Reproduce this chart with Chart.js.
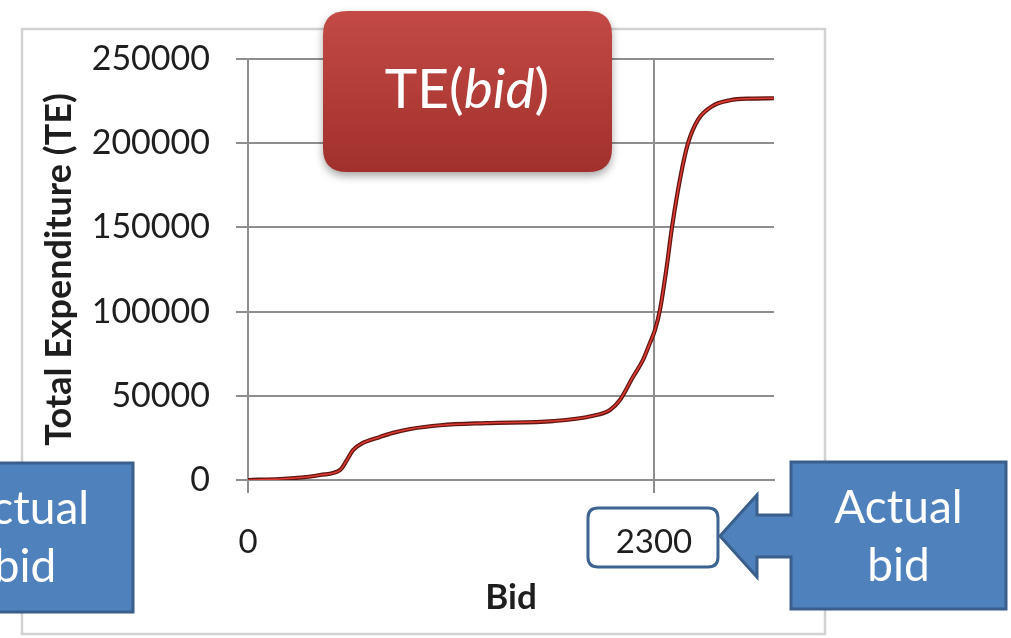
<!DOCTYPE html>
<html>
<head>
<meta charset="utf-8">
<script src="https://cdn.jsdelivr.net/npm/chart.js@4"></script>
<style>
  html, body { margin: 0; padding: 0; background: #fff; }
  #wrap { width: 1011px; height: 638px; position: relative; }
</style>
</head>
<body>
<div id="wrap"><canvas id="teChart"></canvas></div>
<script>
// bid values (x) and total expenditure (y)
const bids = [0, 180, 330, 408, 521, 561, 595, 651, 748, 821, 920, 1090, 1350, 1730, 1949,
  2051, 2107, 2181, 2238, 2277, 2306, 2334, 2370, 2402, 2450, 2493, 2550, 2630, 2730, 2850, 2980];
const expenditure = [0, 600, 1800, 3000, 5900, 11900, 17800, 22000, 25600, 28000, 30300,
  32500, 33800, 35000, 38000, 41600, 47500, 61200, 71300, 81300, 89100, 101000, 125000,
  150000, 180000, 200000, 214000, 222000, 225500, 226500, 226700];
const xTickValues = [0, 2300];
const yMax = 250000;
const yStep = 50000;
const xMax = 2980;
const actualBid = 2300;

const points = bids.map((b, i) => ({ x: b, y: expenditure[i] }));

Chart.defaults.font.family = 'Lato';
Chart.defaults.color = '#1e1e1e';

function roundRect(ctx, x, y, w, h, r) {
  ctx.beginPath();
  ctx.moveTo(x + r, y);
  ctx.lineTo(x + w - r, y);
  ctx.quadraticCurveTo(x + w, y, x + w, y + r);
  ctx.lineTo(x + w, y + h - r);
  ctx.quadraticCurveTo(x + w, y + h, x + w - r, y + h);
  ctx.lineTo(x + r, y + h);
  ctx.quadraticCurveTo(x, y + h, x, y + h - r);
  ctx.lineTo(x, y + r);
  ctx.quadraticCurveTo(x, y, x + r, y);
  ctx.closePath();
}

function callout(ctx, x, y, w, h, withArrow) {
  ctx.beginPath();
  ctx.moveTo(x, y);
  ctx.lineTo(x + w, y);
  ctx.lineTo(x + w, y + h);
  ctx.lineTo(x, y + h);
  if (withArrow) {
    ctx.lineTo(x, y + 95);
    ctx.lineTo(x - 34, y + 95);
    ctx.lineTo(x - 34, y + 115);
    ctx.lineTo(x - 71, y + 74);
    ctx.lineTo(x - 34, y + 33);
    ctx.lineTo(x - 34, y + 53);
    ctx.lineTo(x, y + 53);
  }
  ctx.closePath();
  ctx.fillStyle = '#4f81bd';
  ctx.fill();
  ctx.lineWidth = 3;
  ctx.strokeStyle = '#3a5f8c';
  ctx.stroke();

  ctx.fillStyle = '#fff';
  ctx.font = '46px Lato';
  ctx.textAlign = 'center';
  ctx.textBaseline = 'middle';
  ctx.fillText('Actual', x + w / 2, y + 46);
  ctx.fillText('bid', x + w / 2, y + 104);
}

const decorations = {
  id: 'decorations',
  beforeDraw(chart) {
    const ctx = chart.ctx;
    const xs = chart.scales.x;
    ctx.save();
    // outer frame
    ctx.strokeStyle = '#d2d2d2';
    ctx.lineWidth = 2.5;
    ctx.strokeRect(22, 29, 803, 605);
    // box behind the 2300 tick label
    const cx = xs.getPixelForValue(actualBid);
    roundRect(ctx, cx - 66, 508, 130, 59, 10);
    ctx.fillStyle = '#fff';
    ctx.fill();
    ctx.lineWidth = 3;
    ctx.strokeStyle = '#3d6491';
    ctx.stroke();
    ctx.restore();
  },
  afterDraw(chart) {
    const ctx = chart.ctx;
    ctx.save();
    // red title box
    ctx.shadowColor = 'rgba(0,0,0,0.35)';
    ctx.shadowBlur = 8;
    ctx.shadowOffsetY = 4;
    const grad = ctx.createLinearGradient(0, 11, 0, 172);
    grad.addColorStop(0, '#c34a46');
    grad.addColorStop(1, '#a1302c');
    roundRect(ctx, 323, 11, 289, 161, 24);
    ctx.fillStyle = grad;
    ctx.fill();
    ctx.shadowColor = 'transparent';

    ctx.fillStyle = '#fff';
    ctx.textBaseline = 'alphabetic';
    ctx.textAlign = 'left';
    const parts = [['TE(', '55px Lato'], ['bid', 'italic 55px Lato'], [')', '55px Lato']];
    let total = 0;
    parts.forEach(p => { ctx.font = p[1]; total += ctx.measureText(p[0]).width; });
    let tx = 467 - total / 2;
    parts.forEach(p => {
      ctx.font = p[1];
      ctx.fillText(p[0], tx, 108);
      tx += ctx.measureText(p[0]).width;
    });

    // callouts
    callout(ctx, 791, 462, 215, 147, true);
    callout(ctx, -83, 463, 216, 149, false);
    ctx.restore();
  }
};

const gridColor = '#8e8e8e';

new Chart(document.getElementById('teChart'), {
  type: 'scatter',
  data: {
    datasets: [
      {
        data: points,
        showLine: true,
        borderColor: '#e23a30',
        borderWidth: 1.6,
        pointRadius: 0,
        cubicInterpolationMode: 'monotone',
        order: 0
      },
      {
        data: points,
        showLine: true,
        borderColor: '#5e1714',
        borderWidth: 4.2,
        pointRadius: 0,
        cubicInterpolationMode: 'monotone',
        order: 1
      }
    ]
  },
  options: {
    responsive: true,
    maintainAspectRatio: false,
    animation: false,
    layout: { padding: { left: 0, right: 237, top: 59, bottom: 0 } },
    plugins: { legend: { display: false }, tooltip: { enabled: false } },
    scales: {
      x: {
        type: 'linear',
        min: 0,
        max: xMax,
        afterBuildTicks: s => { s.ticks = xTickValues.map(v => ({ value: v })); },
        afterFit: s => { s.height = 158; },
        grid: { color: gridColor, lineWidth: 2, tickLength: 13 },
        border: { color: gridColor, width: 2 },
        ticks: { font: { size: 33 }, padding: 30, maxRotation: 0, callback: v => String(v) },
        title: { display: true, text: 'Bid', font: { size: 35, weight: 'bold' }, padding: { top: 0, bottom: 19 } }
      },
      y: {
        min: 0,
        max: yMax,
        afterFit: s => { s.width = 248; },
        grid: { color: gridColor, lineWidth: 2, tickLength: 12 },
        border: { color: gridColor, width: 2 },
        ticks: { stepSize: yStep, font: { size: 34 }, padding: 26, callback: v => String(v) },
        title: { display: true, text: 'Total Expenditure (TE)', font: { size: 36, weight: 'bold' }, padding: { top: 38, bottom: 0 } }
      }
    }
  },
  plugins: [decorations]
});
</script>
</body>
</html>
